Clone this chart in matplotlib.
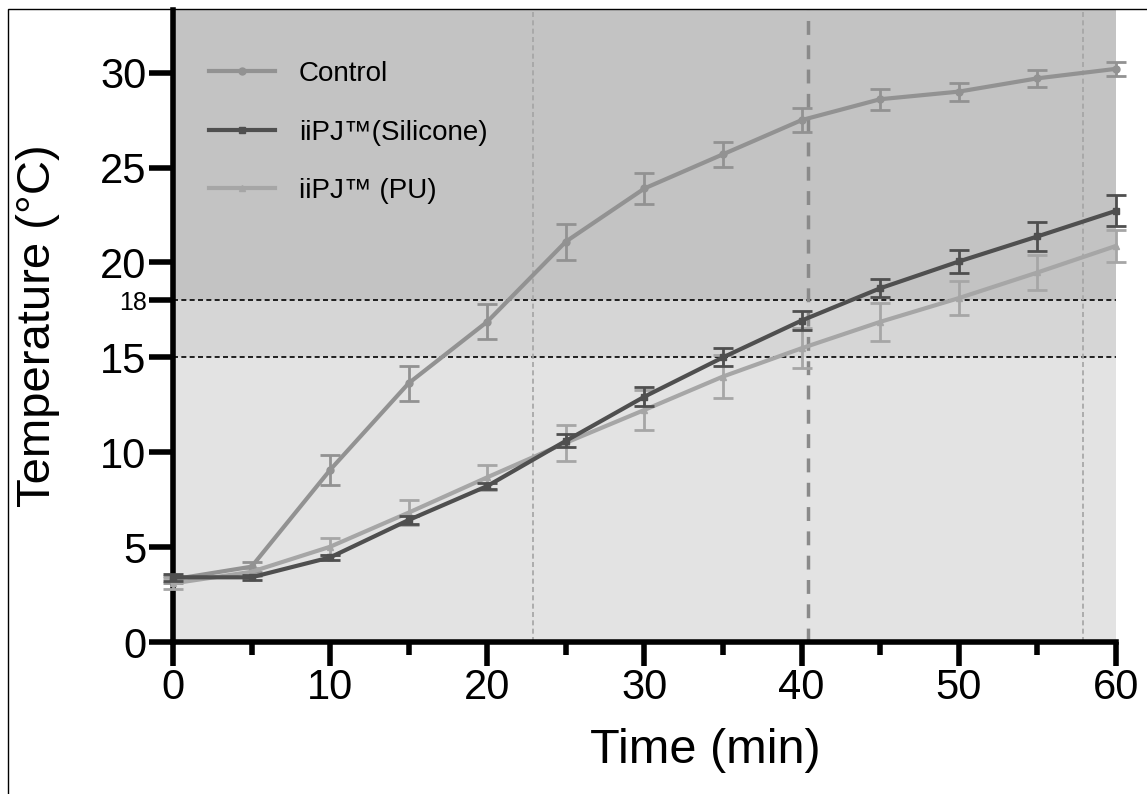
import matplotlib.pyplot as plt
from matplotlib.lines import Line2D

plt.rcParams['font.family'] = ['Liberation Sans', 'DejaVu Sans']

# data (mean +/- error)
time = [0, 5, 10, 15, 20, 25, 30, 35, 40, 45, 50, 55, 60]
control = [3.3, 3.97, 9.07, 13.64, 16.88, 21.1, 23.9, 25.7, 27.5, 28.6, 29.0, 29.7, 30.2]
control_err = [0.2, 0.27, 0.81, 0.92, 0.92, 0.95, 0.8, 0.65, 0.62, 0.55, 0.47, 0.45, 0.37]
silicone = [3.41, 3.41, 4.46, 6.43, 8.22, 10.6, 12.93, 15.0, 16.94, 18.64, 20.05, 21.37, 22.72]
silicone_err = [0.2, 0.12, 0.15, 0.2, 0.17, 0.35, 0.5, 0.47, 0.48, 0.47, 0.63, 0.76, 0.82]
pu = [3.09, 3.7, 5.02, 6.82, 8.68, 10.5, 12.23, 13.99, 15.48, 16.87, 18.12, 19.47, 20.87]
pu_err = [0.3, 0.2, 0.45, 0.67, 0.65, 0.95, 1.05, 1.14, 1.05, 1.0, 0.88, 0.91, 0.83]

labels = ['Control', 'iiPJ™(Silicone)', 'iiPJ™ (PU)']
yticks = [0, 5, 10, 15, 18, 20, 25, 30]
thresholds = [15, 18]
vlines_thin = [22.9, 57.9]
vline_main = 40.4

fig = plt.figure(figsize=(11.47, 7.94), dpi=100)
ax = fig.add_axes([0.1508, 0.1914, 0.8222, 0.796])

# shaded bands
ax.axhspan(0, 15, color='#e3e3e3', lw=0, zorder=0)
ax.axhspan(15, 18, color='#d6d6d6', lw=0, zorder=0)
ax.axhspan(18, 34, color='#c3c3c3', lw=0, zorder=0)

for y in thresholds:
    ax.axhline(y, color='black', lw=1.2, ls=(0, (3, 2)), zorder=1)
for x in vlines_thin:
    ax.axvline(x, color='#a4a4a4', lw=1.2, ls=(0, (3, 2)), zorder=1)
ax.axvline(vline_main, color='#8a8a8a', lw=2.5, ls=(0, (4, 3)), zorder=1)

# series
ax.errorbar(time, control, yerr=control_err, color='#929292', lw=3, marker='o', ms=5,
            capsize=7, capthick=2, elinewidth=2, zorder=3, clip_on=False)
ax.errorbar(time, pu, yerr=pu_err, color='#a6a6a6', lw=3, marker='^', ms=5,
            capsize=7, capthick=2, elinewidth=2, zorder=3, clip_on=False)
ax.errorbar(time, silicone, yerr=silicone_err, color='#4f4f4f', lw=3, marker='s', ms=5,
            capsize=7, capthick=2, elinewidth=2, zorder=4, clip_on=False)

ax.set_xlim(0, 60)
ax.set_ylim(0, 33.3)
ax.set_xticks(range(0, 61, 10))
ax.set_xticks(range(5, 60, 10), minor=True)
ax.set_yticks(yticks)

for s in ['top', 'right']:
    ax.spines[s].set_visible(False)
for s in ['left', 'bottom']:
    ax.spines[s].set_linewidth(4)
ax.tick_params(axis='both', which='major', length=17, width=4, labelsize=30, pad=2)
ax.tick_params(axis='x', which='minor', length=9, width=4)
for lab in ax.get_yticklabels():
    if lab.get_text() == '18':
        lab.set_fontsize(18)

ax.set_xlabel('Time (min)', fontsize=35)
ax.xaxis.set_label_coords(0.564, -0.136)
ax.set_ylabel('Temperature (°C)', fontsize=34)
ax.yaxis.set_label_coords(-0.1195, 0.5)

handles = [
    Line2D([], [], color='#929292', lw=3, marker='o', ms=5),
    Line2D([], [], color='#4f4f4f', lw=3, marker='s', ms=5),
    Line2D([], [], color='#a6a6a6', lw=3, marker='^', ms=5),
]
ax.legend(handles, labels, loc='upper left', bbox_to_anchor=(0.038, 0.919), frameon=False,
          fontsize=20, handlelength=2.4, labelspacing=1.17, handletextpad=0.85,
          borderpad=0, borderaxespad=0)

# outer frame
fig.add_artist(plt.Rectangle((0.007, -0.1), 1.2, 0.1 + 0.989, transform=fig.transFigure,
                             fill=False, lw=1, ec='black'))

fig.savefig('out.png', dpi=100)
